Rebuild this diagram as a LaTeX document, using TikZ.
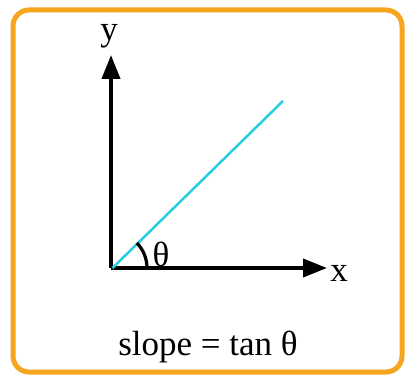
\documentclass[tikz,border=0pt]{standalone}
\usepackage{fontspec}
\setmainfont{Liberation Serif}
\usetikzlibrary{arrows.meta}
\begin{document}
\begin{tikzpicture}[x=1pt,y=-1pt,
  frame/.style={draw={rgb,255:red,245;green,165;blue,30},line width=5pt,rounded corners=16pt},
  axis/.style={line width=4pt,-{Triangle[length=24pt,width=18pt]}},
  lbl/.style={font=\fontsize{35}{40}\selectfont,inner sep=0pt}]
\useasboundingbox (0,0) rectangle (407,382);
\draw[frame] (13,10) rectangle (402,372);
\coordinate (O) at (111,268);
\coordinate (Y) at (111,55);
\coordinate (X) at (327,268);
\coordinate (L) at (283,101);
\draw[axis] (O) -- (Y);
\draw[axis] (O) -- (X);
\draw[line width=2.5pt,color={rgb,255:red,40;green,205;blue,225}] (112.5,268) -- (L);
\draw[line width=3.2pt] ([shift={(0:36)}]O) arc[start angle=0,end angle=-44,radius=36];
\node[lbl] (ylab) at (109,36) {y};
\node[lbl] (xlab) at (339,273) {x};
\node[lbl] (th) at (161,254) {θ};
\node[lbl] (slope) at (208,347) {slope = tan θ};
\end{tikzpicture}
\end{document}
